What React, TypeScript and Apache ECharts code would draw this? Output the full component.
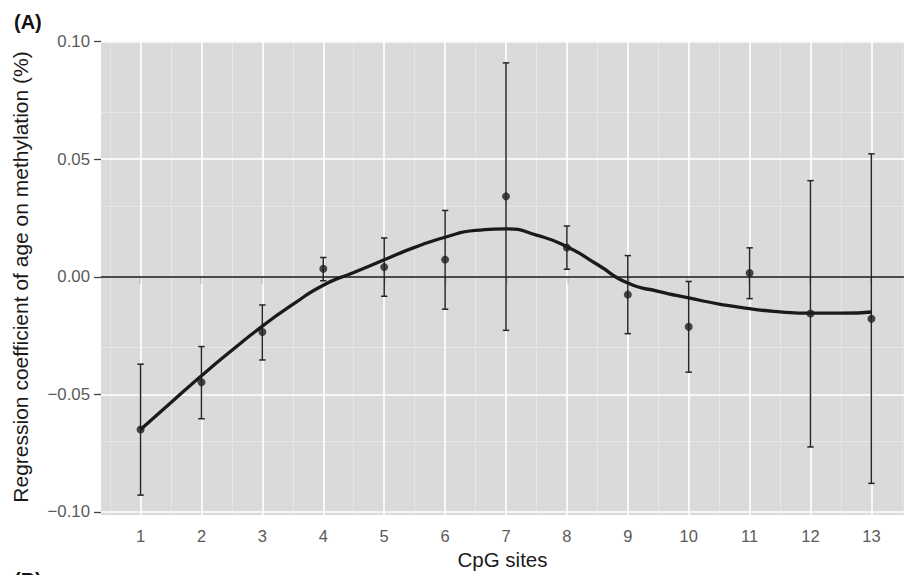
import React, { useEffect, useRef } from "react";
import * as echarts from "echarts";

const sites = [1, 2, 3, 4, 5, 6, 7, 8, 9, 10, 11, 12, 13];
const estimates = [-0.065, -0.0449, -0.0235, 0.0034, 0.0041, 0.0073, 0.0342, 0.0124, -0.0076, -0.0213, 0.0016, -0.0156, -0.0179];
const upper = [-0.0372, -0.0297, -0.012, 0.0082, 0.0165, 0.0282, 0.091, 0.0216, 0.009, -0.002, 0.0123, 0.0409, 0.0523];
const lower = [-0.0929, -0.0604, -0.0354, -0.0017, -0.0083, -0.0138, -0.0228, 0.0032, -0.0242, -0.0406, -0.0093, -0.0724, -0.0879];

const curveX = [1, 1.5, 2, 2.5, 3, 3.5, 4, 4.5, 5, 5.5, 6, 6.5, 7, 7.5, 8, 8.5, 9, 9.5, 10, 10.5, 11, 11.5, 12, 12.5, 13];
const curveY = [-0.065, -0.0535, -0.0421, -0.0313, -0.021, -0.0118, -0.0036, 0.0018, 0.0072, 0.0125, 0.0168, 0.0197, 0.0204, 0.0177, 0.0128, 0.0052, -0.0027, -0.0062, -0.009, -0.0116, -0.0136, -0.0149, -0.0155, -0.0155, -0.015];

const yTicks = [-0.1, -0.05, 0, 0.05, 0.1];
const yTickLabels = ["\u22120.10", "\u22120.05", "0.00", "0.05", "0.10"];
const yMinor = [-0.075, -0.025, 0.025, 0.075];
const xMinor = [0.5, 1.5, 2.5, 3.5, 4.5, 5.5, 6.5, 7.5, 8.5, 9.5, 10.5, 11.5, 12.5, 13.5];

const FONT = "'Liberation Sans', Arial, Helvetica, sans-serif";

export default function App() {
  const ref = useRef<HTMLDivElement>(null);
  useEffect(() => {
    if (!ref.current) return;
    const chart = echarts.init(ref.current, null, { renderer: "svg" });
    const majorStyle = { color: "#ffffff", width: 1.6, type: "solid" as const };
    const minorStyle = { color: "#e8e9ea", width: 0.8, type: "solid" as const };
    const gridLines: any[] = [];
    xMinor.forEach((s) => gridLines.push({ xAxis: s, lineStyle: minorStyle }));
    yMinor.forEach((v) => gridLines.push({ yAxis: v, lineStyle: minorStyle }));
    sites.forEach((s) => gridLines.push({ xAxis: s, lineStyle: majorStyle }));
    yTicks.forEach((v) => gridLines.push({ yAxis: v, lineStyle: majorStyle }));

    const option: any = {
      animation: false,
      backgroundColor: "#ffffff",
      textStyle: { fontFamily: FONT },
      grid: { left: 101, top: 41, right: 0, bottom: 58, show: true, backgroundColor: "#d9dadc", borderWidth: 0 },
      xAxis: {
        type: "value",
        min: 0.35,
        max: 13.535,
        splitLine: { show: false },
        axisLine: { show: false },
        axisTick: { show: true, customValues: sites, length: 7, lineStyle: { color: "#444", width: 1.3 } },
        axisLabel: { customValues: sites, color: "#5a5a5a", fontSize: 16.5, margin: 12, fontFamily: FONT },
        name: "CpG sites",
        nameLocation: "middle",
        nameGap: 32,
        nameTextStyle: { color: "#1a1a1a", fontSize: 20.5, fontFamily: FONT },
      },
      yAxis: {
        type: "value",
        min: -0.1014,
        max: 0.1003,
        splitLine: { show: false },
        axisLine: { show: false },
        axisTick: { show: true, customValues: yTicks, length: 7, lineStyle: { color: "#444", width: 1.3 } },
        axisLabel: {
          customValues: yTicks,
          color: "#5a5a5a",
          fontSize: 16.8,
          margin: 11,
          fontFamily: FONT,
          formatter: (v: number) => {
            const i = yTicks.findIndex((t) => Math.abs(t - v) < 1e-9);
            return i >= 0 ? yTickLabels[i] : "";
          },
        },
      },
      graphic: [
        { type: "text", left: 14, top: 12, style: { text: "(A)", font: `bold 20px ${FONT}`, fill: "#111" } },
        { type: "text", left: 14, top: 570, style: { text: "(B)", font: `bold 20px ${FONT}`, fill: "#111" } },
        {
          type: "text",
          x: 20,
          y: 277,
          rotation: Math.PI / 2,
          style: {
            text: "Regression coefficient of age on methylation (%)",
            font: `21px ${FONT}`,
            fill: "#1a1a1a",
            align: "center",
            verticalAlign: "middle",
          },
        },
      ],
      series: [
        {
          type: "line",
          data: [],
          silent: true,
          z: 1,
          markLine: {
            silent: true,
            z: 1,
            symbol: "none",
            label: { show: false },
            data: gridLines,
          },
        },
        {
          type: "line",
          data: [],
          silent: true,
          z: 2,
          markLine: {
            silent: true,
            z: 2,
            symbol: "none",
            label: { show: false },
            data: [{ yAxis: 0, lineStyle: { color: "#111", width: 1.5, type: "solid" } }],
          },
        },
        {
          type: "custom",
          z: 6,
          data: sites.map((s, i) => [s, upper[i], lower[i]]),
          renderItem: (params: any, api: any) => {
            const top = api.coord([api.value(0), api.value(1)]);
            const bot = api.coord([api.value(0), api.value(2)]);
            const cap = 3.2;
            const st = { stroke: "#262626", lineWidth: 1.5 };
            return {
              type: "group",
              children: [
                { type: "line", shape: { x1: top[0], y1: top[1], x2: bot[0], y2: bot[1] }, style: st },
                { type: "line", shape: { x1: top[0] - cap, y1: top[1], x2: top[0] + cap, y2: top[1] }, style: st },
                { type: "line", shape: { x1: bot[0] - cap, y1: bot[1], x2: bot[0] + cap, y2: bot[1] }, style: st },
              ],
            };
          },
        },
        {
          type: "line",
          z: 7,
          data: curveX.map((x, i) => [x, curveY[i]]),
          smooth: 0.6,
          showSymbol: false,
          lineStyle: { color: "#1a1a1a", width: 3.3 },
          silent: true,
        },
        {
          type: "scatter",
          z: 8,
          data: sites.map((s, i) => [s, estimates[i]]),
          symbol: "circle",
          symbolSize: 8,
          itemStyle: { color: "#1e1e1e" },
          silent: true,
        },
      ],
    };
    chart.setOption(option);
    return () => chart.dispose();
  }, []);
  return (
    <div
      ref={ref}
      style={{ position: "absolute", left: 0, top: 0, width: 904, height: 575 }}
    />
  );
}
